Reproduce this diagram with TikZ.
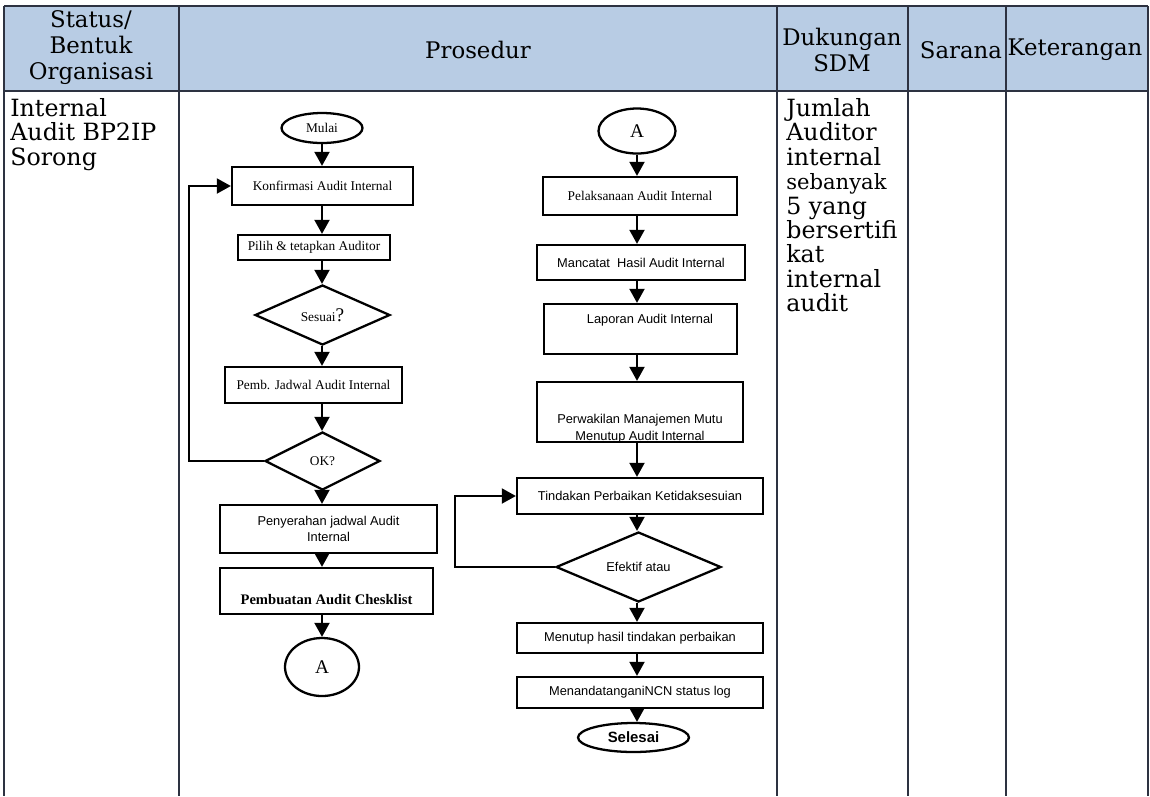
\documentclass[tikz,border=0pt]{standalone}
\usepackage{fontspec}
\setmainfont{DejaVu Serif}
\newfontfamily\boxserif{Liberation Serif}
\newfontfamily\boxsans{Liberation Sans}
\usetikzlibrary{positioning,shapes.geometric,arrows.meta}
\definecolor{headfill}{RGB}{184,204,228}
\definecolor{gridcol}{RGB}{45,50,65}
\tikzset{
  wh/.style 2 args={minimum width=#1*0.02cm, minimum height=#2*0.02cm},
  gridline/.style={draw=gridcol, line width=0.6pt},
  head/.style={font=\fontsize{13}{14.8}\selectfont, align=center, inner sep=0pt},
  body/.style={font=\fontsize{13.5}{13.9}\selectfont, align=left, inner sep=0pt},
  proc/.style={draw, line width=1.3pt, rectangle, inner sep=0pt, align=center},
  term/.style={draw, line width=1.3pt, ellipse, inner sep=0pt},
  decide/.style={draw, line width=1.3pt, diamond, inner sep=0pt, aspect=2},
  serifbox/.style={font=\boxserif\fontsize{7.6}{9}\selectfont},
  sansbox/.style={font=\boxsans\fontsize{7.3}{9.5}\selectfont, align=center},
  flow/.style={line width=1.3pt, -{Triangle[length=8pt,width=8.5pt]}}
}
\begin{document}
\begin{tikzpicture}[x=0.02cm, y=-0.02cm]
            \useasboundingbox (0,0) rectangle (1150,796);
            % table
            \fill[headfill] (4,6) rectangle (1148,91);
            \draw[gridline] (4,6) -- (1148,6) (4,91) -- (1148,91);
            \foreach \cx in {4,179,777,908,1006,1148}
              \draw[gridline] (\cx,6) -- (\cx,796);
            \node[head] (hstatus) at (91,48) {Status/\\Bentuk\\Organisasi};
            \node[head] (hprosedur) at (478,50) {Prosedur};
            \node[head] (hsdm) at (842,50) {Dukungan\\SDM};
            \node[head] (hsarana) at (961,50) {Sarana};
            \node[head] (hket) at (1075,50) {Keterangan};
            \node[body, anchor=north west] (org) at (10,98) {Internal\\Audit BP2IP\\Sorong};
            \node[body, anchor=north west] (sdm) at (786,98)
              {Jumlah\\Auditor\\internal\\{\fontsize{12}{13.9}\selectfont sebanyak}\\5 yang\\bersertifi\\kat\\internal\\audit};
            % left flow
            \coordinate (colL) at (322,0);
            \coordinate (loopL) at (189,0);
            \node[term, wh={81}{30}, serifbox] (mulai) at (322,128) {Mulai};
            \node[proc, wh={181}{38}, serifbox] (konf) at (322.5,186) {Konfirmasi Audit Internal};
            \node[proc, wh={152}{25}, serifbox] (pilih) at (314,247.5) {Pilih \& tetapkan Auditor};
            \node[decide, wh={135}{60}, serifbox] (sesuai) at (322.5,315) {Sesuai{\fontsize{11}{11}\selectfont ?}};
            \node[proc, wh={177}{36}, serifbox] (pemb) at (313.5,385) {Pemb. Jadwal Audit Internal};
            \node[decide, wh={115}{58}, serifbox] (ok) at (322.5,461) {OK?};
            \node[proc, wh={217}{48}, sansbox] (serah) at (328.5,529) {Penyerahan jadwal Audit\\Internal};
            \node[proc, wh={213}{46},
              label={[yshift=-0.18cm, font=\boxserif\bfseries\fontsize{8.3}{10}\selectfont]center:Pembuatan Audit Chesklist}] (cek) at (326.5,591) {};
            \node[term, wh={74}{58}, font=\boxserif\fontsize{11}{12}\selectfont] (aL) at (322,667) {A};
            \foreach \a/\b in {mulai/konf, konf/pilih, pilih/sesuai, sesuai/pemb, pemb/ok, ok/serah, serah/cek, cek/aL}
              \draw[flow] (\a.south -| colL) -- (\b.north -| colL);
            \draw[flow] (ok.west) -- (ok.west -| loopL) |- (konf.west);
            % right flow
            \coordinate (colR) at (637,0);
            \coordinate (loopR) at (455,0);
            \node[term, wh={77}{45}, font=\boxserif\fontsize{11}{12}\selectfont] (aR) at (637,131) {A};
            \node[proc, wh={194}{38}, serifbox] (lak) at (640,196) {Pelaksanaan Audit Internal};
            \node[proc, wh={208}{35}, sansbox] (catat) at (641,262.5) {Mancatat\ \ Hasil Audit Internal};
            \node[proc, wh={193}{50},
              label={[xshift=0.19cm, yshift=0.18cm, sansbox]center:Laporan Audit Internal}] (lapor) at (640.5,329) {};
            \node[proc, wh={206}{60},
              label={[yshift=-0.33cm, sansbox]center:Perwakilan Manajemen Mutu\\Menutup Audit Internal}] (wakil) at (640,412) {};
            \node[proc, wh={246}{36}, sansbox] (tindak) at (640,496) {Tindakan Perbaikan Ketidaksesuian};
            \node[decide, wh={165}{70}, sansbox] (efektif) at (638.5,567) {Efektif atau};
            \node[proc, wh={246}{30}, sansbox] (tutup) at (640,638) {Menutup hasil tindakan perbaikan};
            \node[proc, wh={246}{31}, sansbox] (ttd) at (640,692.5) {MenandatanganiNCN status log};
            \node[term, wh={111}{29}, font=\boxsans\bfseries\fontsize{8.5}{10}\selectfont] (selesai) at (633.5,737.5) {Selesai};
            \foreach \a/\b in {aR/lak, lak/catat, catat/lapor, lapor/wakil, wakil/tindak, tindak/efektif, efektif/tutup, tutup/ttd, ttd/selesai}
              \draw[flow] (\a.south -| colR) -- (\b.north -| colR);
            \draw[flow] (efektif.west) -- (efektif.west -| loopR) |- (tindak.west);
\end{tikzpicture}
\end{document}
